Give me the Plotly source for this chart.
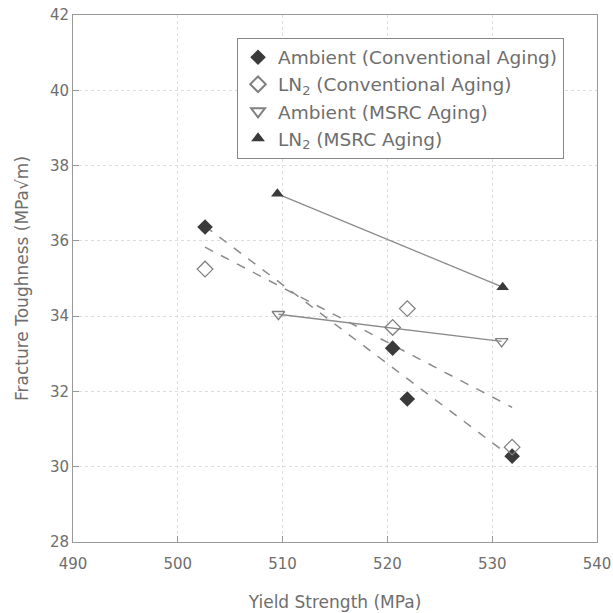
import numpy as np
import plotly.graph_objects as go

# Data
amb_conv_x = [502.6, 520.5, 521.9, 531.9]
amb_conv_y = [36.37, 33.15, 31.80, 30.28]
ln2_conv_x = [502.6, 521.9, 520.5, 531.9]
ln2_conv_y = [35.25, 34.20, 33.70, 30.52]
amb_msrc_x = [509.6, 530.9]
amb_msrc_y = [34.05, 33.33]
ln2_msrc_x = [509.5, 531.0]
ln2_msrc_y = [37.25, 34.77]

x_ticks = [490, 500, 510, 520, 530, 540]
y_ticks = [28, 30, 32, 34, 36, 38, 40, 42]

FONT = "DejaVu Sans"
TXT = "#6e6e6e"
MK = "#3a3a3a"
OPEN = "#808080"
LINE = "#8a8a8a"

fig = go.Figure()

def fit(xs, ys):
    xs = np.array(xs); ys = np.array(ys)
    m, b = np.polyfit(xs, ys, 1)
    xx = np.array([xs.min(), xs.max()])
    return xx, m * xx + b

fx, fy = fit(amb_conv_x, amb_conv_y)
fig.add_trace(go.Scatter(x=fx, y=fy, mode="lines", showlegend=False,
                         line=dict(color=LINE, width=1.5, dash="dash")))
fx, fy = fit(ln2_conv_x, ln2_conv_y)
fig.add_trace(go.Scatter(x=fx, y=fy, mode="lines", showlegend=False,
                         line=dict(color=LINE, width=1.5, dash="dash")))
fig.add_trace(go.Scatter(x=amb_msrc_x, y=amb_msrc_y, mode="lines", showlegend=False,
                         line=dict(color=LINE, width=1.3)))
fig.add_trace(go.Scatter(x=ln2_msrc_x, y=ln2_msrc_y, mode="lines", showlegend=False,
                         line=dict(color=LINE, width=1.3)))

fig.add_trace(go.Scatter(x=amb_conv_x, y=amb_conv_y, mode="markers",
                         name="Ambient (Conventional Aging)", legendgroup="a",
                         marker=dict(symbol="diamond", size=12, color=MK)))
fig.add_trace(go.Scatter(x=ln2_conv_x, y=ln2_conv_y, mode="markers",
                         name="LN<sub>2</sub> (Conventional Aging)", legendgroup="b",
                         marker=dict(symbol="diamond-open", size=12, color=OPEN,
                                     line=dict(width=1.3))))
fig.add_trace(go.Scatter(x=amb_msrc_x, y=amb_msrc_y, mode="markers",
                         name="Ambient (MSRC Aging)", legendgroup="c",
                         marker=dict(symbol="triangle-down-open", size=11, color=OPEN,
                                     line=dict(width=1.3))))
fig.add_trace(go.Scatter(x=ln2_msrc_x, y=ln2_msrc_y, mode="markers",
                         name="LN<sub>2</sub> (MSRC Aging)", legendgroup="d",
                         marker=dict(symbol="triangle-up", size=11, color=MK)))

fig.update_layout(
    width=613, height=613,
    margin=dict(l=73, r=16, t=15, b=71),
    paper_bgcolor="white", plot_bgcolor="white",
    font=dict(family=FONT, size=15, color=TXT),
    legend=dict(x=0.313, y=0.957, xanchor="left", yanchor="top",
                bordercolor="#888888", borderwidth=1, bgcolor="white",
                font=dict(size=18.5, color=TXT), tracegroupgap=0,
                itemsizing="constant"),
)
fig.update_xaxes(range=[490, 540], tickvals=x_ticks, showline=True, mirror=True,
                 linecolor="#999999", linewidth=1, ticks="inside", ticklen=6,
                 tickcolor="#999999", showgrid=True, gridcolor="#dddddd",
                 griddash="dot", zeroline=False, ticklabelstandoff=8,
                 automargin=False,
                 title=dict(text="Yield Strength (MPa)", font=dict(size=17), standoff=24),
                 tickfont=dict(size=15))
fig.update_yaxes(range=[28, 42], tickvals=y_ticks, showline=True, mirror=True,
                 linecolor="#999999", linewidth=1, ticks="inside", ticklen=6,
                 tickcolor="#999999", showgrid=True, gridcolor="#dddddd",
                 griddash="dot", zeroline=False, automargin=False,
                 title=dict(text="Fracture Toughness (MPa√m)", font=dict(size=17), standoff=16),
                 tickfont=dict(size=15))

fig.write_html("out.html")
